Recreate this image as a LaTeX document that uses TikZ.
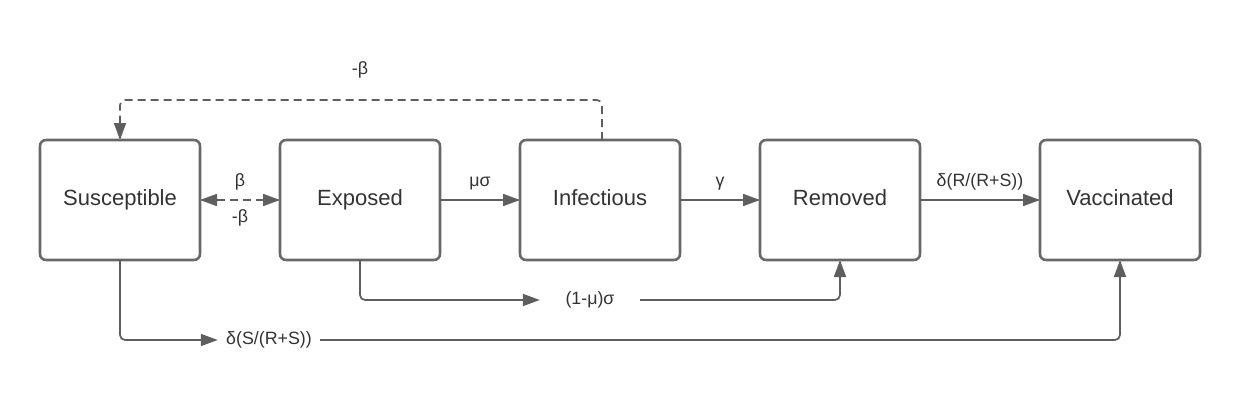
\documentclass[tikz,border=0pt]{standalone}
\usepackage{fontspec}
\setmainfont{Liberation Sans}
\usepackage{tikz}
\usetikzlibrary{positioning,arrows.meta}
\definecolor{boxgray}{HTML}{686868}
\definecolor{linegray}{HTML}{5E5E5E}
\definecolor{txtgray}{HTML}{333333}

\begin{document}
\begin{tikzpicture}[x=1pt,y=-1pt,>={Triangle[length=17pt,width=12pt]},
  comp/.style={draw=boxgray,line width=2.6pt,rounded corners=6pt,outer sep=0pt,minimum width=160pt,minimum height=120pt,text height=16pt,text depth=5pt,text=txtgray,font=\fontsize{22}{26}\selectfont},
  flow/.style={draw=linegray,line width=1.7pt,rounded corners=5pt,->},
  rate/.style={text=txtgray,text height=13pt,text depth=4pt,font=\fontsize{17.8}{21}\selectfont},
  gaplbl/.style={rate,inner sep=0pt}]
\useasboundingbox (0,0) rectangle (1240,420);
\node[comp] (sus) at (120,200) {Susceptible};
\node[comp,right=80pt of sus] (exp) {Exposed};
\node[comp,right=80pt of exp] (inf) {Infectious};
\node[comp,right=80pt of inf] (rem) {Removed};
\node[comp,right=120pt of rem] (vac) {Vaccinated};
\draw[flow,<->,dash pattern=on 8pt off 5pt] (sus) -- node[rate,above=5pt]{β} node[rate,below=5pt]{-β} (exp);
\draw[flow] (exp) -- node[rate,above=5pt]{μσ} (inf);
\draw[flow] (inf) -- node[rate,above=5pt]{γ} (rem);
\draw[flow] (rem) -- node[rate,above=5pt]{δ(R/(R+S))} (vac);
\draw[flow,dash pattern=on 8pt off 5pt] ([xshift=2pt]inf.north) -- ++(0,-40) -| (sus.north);
\node[rate] (negb) at (360,70) {-β};
\node[gaplbl,minimum width=100pt] (lrem) at (590,300) {(1-μ)σ};
\draw[flow] (exp.south) |- (lrem.west);
\draw[flow] (lrem.east) -| (rem.south);
\node[gaplbl,minimum width=102pt] (lvac) at (269,340) {δ(S/(R+S))};
\draw[flow] (sus.south) |- (lvac.west);
\draw[flow] (lvac.east) -| (vac.south);
\end{tikzpicture}
\end{document}
